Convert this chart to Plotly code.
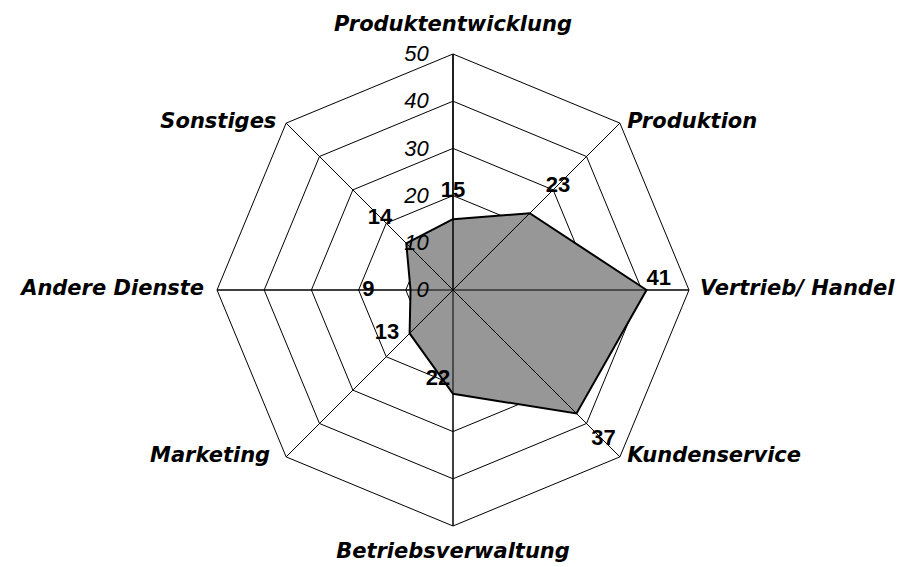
import plotly.graph_objects as go

categories = ["Produktentwicklung", "Produktion", "Vertrieb/ Handel", "Kundenservice",
              "Betriebsverwaltung", "Marketing", "Andere Dienste", "Sonstiges"]
values = [15, 23, 41, 37, 22, 13, 9, 14]
radial_ticks = [0, 10, 20, 30, 40, 50]

# data-label placement (text position relative to point, invisible marker size as padding)
label_positions = ["top center", "top right", "top right", "bottom right",
                   "top left", "middle left", "middle left", "top left"]
label_pad = [25, 24, 0, 22, 3, 15, 56, 21]

# category-label placement around the outer ring
cat_positions = ["top center", "middle right", "middle right", "middle right",
                 "bottom center", "middle left", "middle left", "middle left"]
cat_pad = [27, 10, 16, 10, 24, 24, 19, 14]

closed_r = values + values[:1]
closed_t = categories + categories[:1]
r_max = radial_ticks[-1]

spoke_r, spoke_t = [], []
for c in categories:
    spoke_r += [0, r_max, None]
    spoke_t += [c, c, None]

fig = go.Figure()
fig.add_trace(go.Scatterpolar(r=closed_r, theta=closed_t, fill="toself",
                              fillcolor="#979797", mode="lines",
                              line=dict(color="rgba(0,0,0,0)", width=0),
                              hoverinfo="skip"))
fig.add_trace(go.Scatterpolar(r=spoke_r, theta=spoke_t, mode="lines",
                              line=dict(color="black", width=1), hoverinfo="skip"))
fig.add_trace(go.Scatterpolar(r=closed_r, theta=closed_t, mode="lines",
                              line=dict(color="black", width=2), hoverinfo="skip"))
fig.add_trace(go.Scatterpolar(r=values, theta=categories, mode="markers+text",
                              text=[str(v) for v in values],
                              textposition=label_positions,
                              marker=dict(size=label_pad, color="rgba(0,0,0,0)",
                                          line=dict(width=0)),
                              textfont=dict(family="Liberation Sans", size=22,
                                            color="black", weight="bold"),
                              cliponaxis=False, hoverinfo="skip"))
fig.add_trace(go.Scatterpolar(r=[r_max] * len(categories), theta=categories,
                              mode="markers+text", text=categories,
                              textposition=cat_positions,
                              marker=dict(size=cat_pad, color="rgba(0,0,0,0)",
                                          line=dict(width=0)),
                              textfont=dict(family="DejaVu Sans", size=21, color="black",
                                            weight="bold", style="italic"),
                              cliponaxis=False, hoverinfo="skip"))

fig.update_layout(
    width=900, height=567,
    margin=dict(l=217, r=211, t=54, b=41),
    paper_bgcolor="white",
    showlegend=False,
    polar=dict(
        bgcolor="white",
        gridshape="linear",
        radialaxis=dict(range=[0, r_max], tickvals=radial_ticks,
                        ticktext=[str(t) for t in radial_ticks],
                        angle=90, tickangle=90, side="counterclockwise",
                        showline=True, linecolor="black", linewidth=1,
                        gridcolor="black", gridwidth=1,
                        ticks="outside", ticklen=16, tickcolor="rgba(0,0,0,0)",
                        tickfont=dict(family="Liberation Sans", size=22,
                                      color="black", style="italic")),
        angularaxis=dict(direction="clockwise", rotation=90,
                         type="category", categoryarray=categories,
                         showline=True, linecolor="black", linewidth=1,
                         gridcolor="black", gridwidth=1,
                         showticklabels=False, ticks=""),
    ),
)

fig.write_html("out.html",
               config={"displayModeBar": False, "staticPlot": True},
               post_script="document.body.style.margin='0';document.body.style.overflow='hidden';")
